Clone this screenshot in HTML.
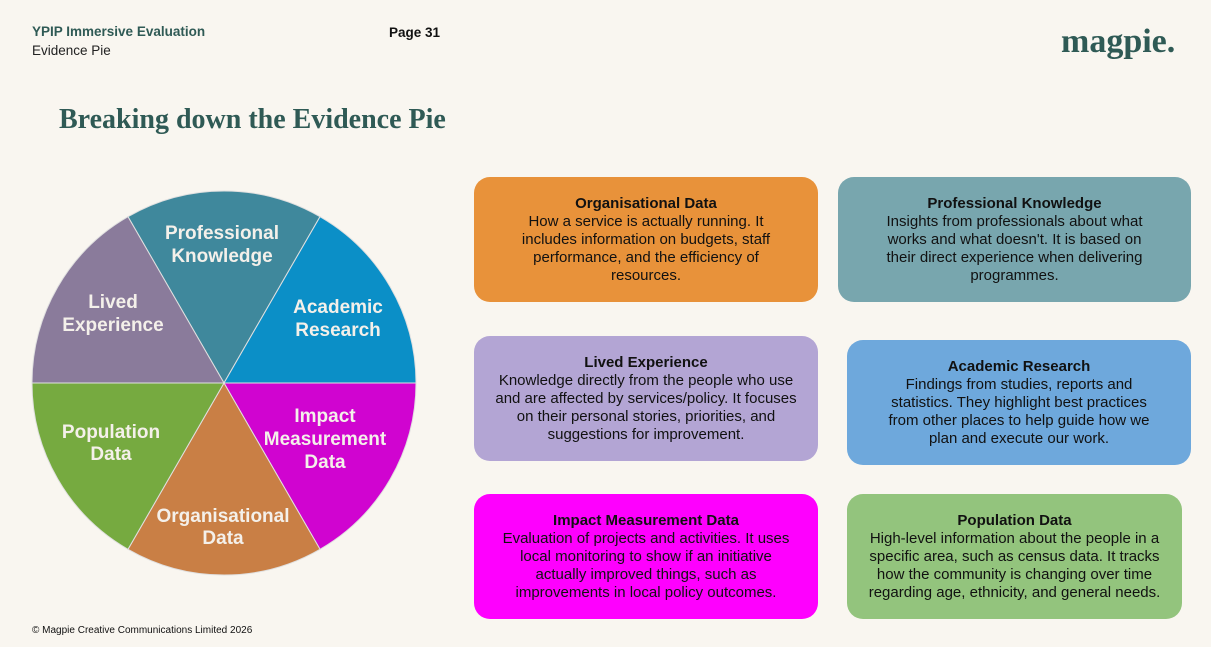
<!DOCTYPE html>
<html><head><meta charset="utf-8"><style>
body{margin:0;width:1211px;height:647px;background:#f9f6f0;position:relative;overflow:hidden;font-family:"Liberation Sans",sans-serif}
.a{position:absolute}
.box{position:absolute;border-radius:16px;display:flex;flex-direction:column;justify-content:center;align-items:center;text-align:center;font-size:15px;line-height:18px;color:#111;box-sizing:border-box;padding:0 36px}
.box b{font-weight:bold}
</style></head><body>
<div class="a" style="left:32px;top:24px;font-size:13.5px;font-weight:bold;color:#2f5a55">YPIP Immersive Evaluation</div>
<div class="a" style="left:32px;top:43px;font-size:13.5px;color:#222">Evidence Pie</div>
<div class="a" style="left:389px;top:25px;font-size:13.5px;font-weight:bold;color:#111">Page 31</div>
<div class="a" style="left:1061px;top:23px;font-size:34px;font-weight:bold;color:#2f5a55;font-family:'Liberation Serif',serif">magpie.</div>
<div class="a" style="left:59px;top:104px;font-size:28px;color:#2f5a55;font-family:'Liberation Serif',serif;font-weight:bold">Breaking down the Evidence Pie</div>
<div class="a" style="left:32px;top:625px;font-size:10px;color:#111">© Magpie Creative Communications Limited 2026</div>
<svg class="a" style="left:0;top:0" width="1211" height="647">
<g stroke="#e0e0e0" stroke-width="1">
<path d="M224,383 L128,216.7 A192,192 0 0 1 320,216.7Z" fill="#3f889c"/>
<path d="M224,383 L320,216.7 A192,192 0 0 1 416,383Z" fill="#0b8fc7"/>
<path d="M224,383 L416,383 A192,192 0 0 1 320,549.3Z" fill="#d004d0"/>
<path d="M224,383 L320,549.3 A192,192 0 0 1 128,549.3Z" fill="#c97f45"/>
<path d="M224,383 L128,549.3 A192,192 0 0 1 32,383Z" fill="#76aa40"/>
<path d="M224,383 L32,383 A192,192 0 0 1 128,216.7Z" fill="#8a7b9b"/>
</g>
<g fill="#f4f0ea" font-family="Liberation Sans,sans-serif" font-size="19" font-weight="bold" text-anchor="middle">
<text x="222" y="239">Professional</text><text x="222" y="262">Knowledge</text>
<text x="338" y="313">Academic</text><text x="338" y="336">Research</text>
<text x="113" y="308">Lived</text><text x="113" y="331">Experience</text>
<text x="325" y="422">Impact</text><text x="325" y="445">Measurement</text><text x="325" y="468">Data</text>
<text x="111" y="438">Population</text><text x="111" y="460">Data</text>
<text x="223" y="522">Organisational</text><text x="223" y="544">Data</text>
</g></svg>
<div class="box" style="left:474px;top:177px;width:344px;height:125px;background:#e8923a"><b>Organisational Data</b>How a service is actually running. It includes information on budgets, staff performance, and the efficiency of resources.</div>
<div class="box" style="left:838px;top:177px;width:353px;height:125px;background:#78a6ae"><b>Professional Knowledge</b>Insights from professionals about what works and what doesn't. It is based on their direct experience when delivering programmes.</div>
<div class="box" style="left:474px;top:336px;width:344px;height:125px;background:#b3a5d4;padding:0 20px"><b>Lived Experience</b>Knowledge directly from the people who use and are affected by services/policy. It focuses on their personal stories, priorities, and suggestions for improvement.</div>
<div class="box" style="left:847px;top:340px;width:344px;height:125px;background:#6ea8dc;padding:0 28px"><b>Academic Research</b>Findings from studies, reports and statistics. They highlight best practices from other places to help guide how we plan and execute our work.</div>
<div class="box" style="left:474px;top:494px;width:344px;height:125px;background:#fe00fe;padding:0 20px"><b>Impact Measurement Data</b>Evaluation of projects and activities. It uses local monitoring to show if an initiative actually improved things, such as improvements in local policy outcomes.</div>
<div class="box" style="left:847px;top:494px;width:335px;height:125px;background:#93c47d;padding:0 16px"><b>Population Data</b>High-level information about the people in a specific area, such as census data. It tracks how the community is changing over time regarding age, ethnicity, and general needs.</div>
</body></html>
